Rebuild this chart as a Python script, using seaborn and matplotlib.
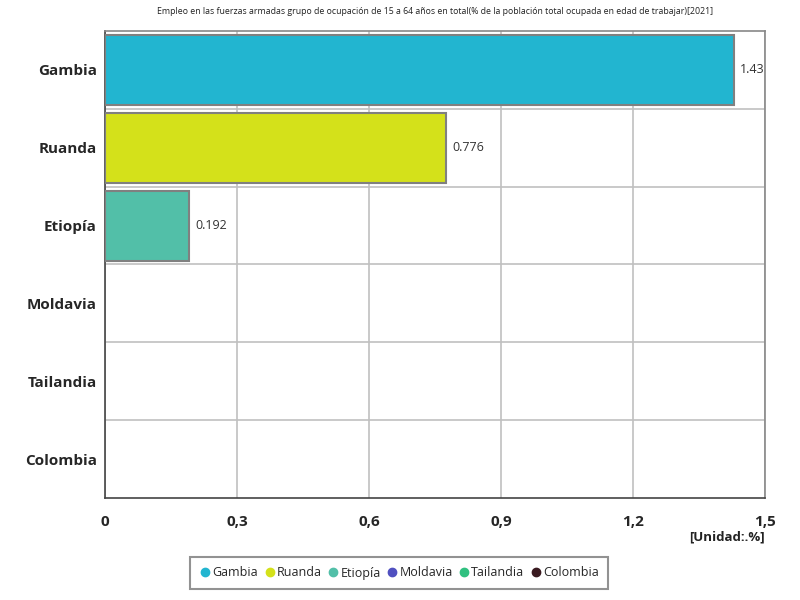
import numpy as np
import pandas as pd
import matplotlib
matplotlib.use("Agg")
import matplotlib.pyplot as plt
from matplotlib.lines import Line2D
from matplotlib.ticker import FixedLocator
import seaborn as sns

countries = ["Gambia", "Ruanda", "Etiopía", "Moldavia", "Tailandia", "Colombia"]
values = [1.43, 0.776, 0.192, np.nan, np.nan, np.nan]
value_labels = ["1.43", "0.776", "0.192", "", "", ""]
colors = ["#22b5d0", "#d4e11a", "#52bfa8", "#5050c0", "#30c080", "#3a1a20"]
xticks = [0, 0.3, 0.6, 0.9, 1.2, 1.5]
xtick_labels = ["0", "0,3", "0,6", "0,9", "1,2", "1,5"]
title = "Empleo en las fuerzas armadas grupo de ocupación de 15 a 64 años en total(% de la población total ocupada en edad de trabajar)[2021]"

sns.set_style("white")
plt.rcParams["font.family"] = ["Open Sans", "DejaVu Sans"]

df = pd.DataFrame({"country": countries, "value": values})

fig = plt.figure(figsize=(8, 6), dpi=100)
ax = fig.add_axes([105/800, 102/600, 660/800, 467/600])

sns.barplot(data=df, y="country", x="value", hue="country", palette=colors,
            order=countries, hue_order=countries, dodge=False, legend=False,
            saturation=1, width=0.9, edgecolor="#808080", linewidth=1.5, ax=ax, zorder=3)

ax.set_xlim(0, 1.5)
ax.set_ylim(5.5, -0.5)
ax.set_xticks(xticks)
ax.set_xticklabels(xtick_labels, fontsize=11, fontweight="bold")
ax.set_yticks(range(len(countries)))
ax.set_yticklabels(countries, fontsize=11, fontweight="bold")
ax.yaxis.set_minor_locator(FixedLocator([0.5, 1.5, 2.5, 3.5, 4.5]))
ax.tick_params(axis="both", which="both", length=0)
ax.tick_params(axis="x", pad=12)
ax.tick_params(axis="y", pad=6)
ax.set_xlabel("")
ax.set_ylabel("")

ax.grid(axis="x", which="major", color="#c0c0c0", linewidth=1.2, zorder=0)
ax.grid(axis="y", which="minor", color="#c0c0c0", linewidth=1.2, zorder=0)
ax.grid(axis="y", which="major", visible=False)
ax.set_axisbelow(True)

for side in ["top", "right"]:
    ax.spines[side].set_color("#888888")
    ax.spines[side].set_linewidth(1.2)
for side in ["left", "bottom"]:
    ax.spines[side].set_color("#444444")
    ax.spines[side].set_linewidth(1.2)

for i, (v, lab) in enumerate(zip(values, value_labels)):
    if lab:
        ax.text(v + 0.013, i, lab, va="center", ha="left", fontsize=9, color="#333333", zorder=4)

fig.text(435/800, 1 - 11/600, title, ha="center", va="center", fontsize=6.3, color="#222222")
fig.text(765/800, 1 - 537/600, "[Unidad:.%]", ha="right", va="center", fontsize=9.5,
         fontweight="bold", color="#222222")

handles = [Line2D([0], [0], marker="o", linestyle="", markersize=6,
                  markerfacecolor=c, markeredgecolor=c, label=n)
           for n, c in zip(countries, colors)]
leg = fig.legend(handles=handles, loc="center", bbox_to_anchor=(399/800, 1 - 573/600),
                 ncol=6, frameon=True, fontsize=9, handletextpad=0.05, columnspacing=0.45,
                 borderpad=0.75, fancybox=False, handlelength=1.0)
leg.get_frame().set_edgecolor("#777777")
leg.get_frame().set_linewidth(1.5)

fig.savefig("out.png", dpi=100)
